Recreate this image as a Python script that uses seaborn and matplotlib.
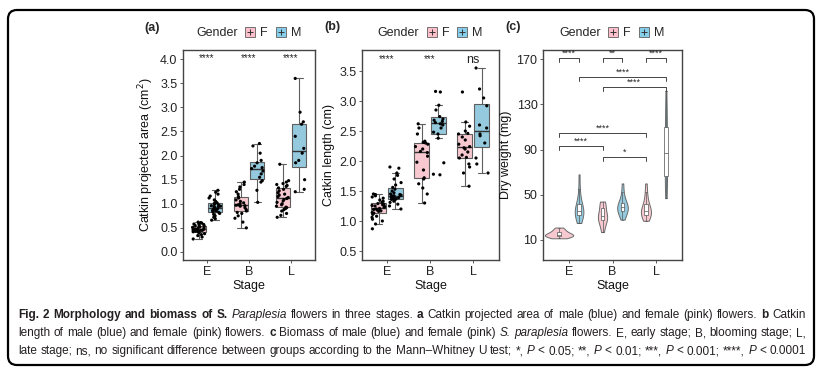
import numpy as np
import pandas as pd
import matplotlib
matplotlib.use("Agg")
import matplotlib.pyplot as plt
import seaborn as sns
from matplotlib.patches import FancyBboxPatch, Patch
from matplotlib.lines import Line2D

# ---- data ----
stages = ["E", "B", "L"]
genders = ["F", "M"]

# (a) catkin projected area (cm2)
area_E_F = [0.27, 0.31, 0.34, 0.36, 0.38, 0.40, 0.41, 0.42, 0.43, 0.44, 0.45, 0.45, 0.46, 0.46, 0.47,
            0.47, 0.48, 0.49, 0.50, 0.51, 0.52, 0.54, 0.55, 0.56, 0.57, 0.58, 0.59, 0.60, 0.61, 0.62]
area_E_M = [0.66, 0.69, 0.72, 0.75, 0.78, 0.80, 0.82, 0.83, 0.85, 0.86, 0.87, 0.88, 0.89, 0.90, 0.91,
            0.93, 0.94, 0.95, 0.96, 0.98, 0.99, 1.01, 1.02, 1.05, 1.08, 1.12, 1.16, 1.20, 1.24, 1.28]
area_B_F = [0.50, 0.62, 0.70, 0.75, 0.80, 0.82, 0.85, 0.88, 0.92, 0.95, 0.96, 0.97, 0.98, 1.00, 1.02,
            1.05, 1.08, 1.12, 1.15, 1.20, 1.25, 1.30, 1.35, 1.40, 1.45]
area_B_M = [1.03, 1.28, 1.45, 1.48, 1.55, 1.62, 1.68, 1.73, 1.75, 1.78, 1.85, 1.90, 2.05, 2.20, 2.25]
area_L_F = [0.72, 0.76, 0.80, 0.85, 0.88, 0.90, 0.92, 0.93, 0.95, 0.98, 1.00, 1.03, 1.06, 1.09, 1.11,
            1.13, 1.15, 1.18, 1.20, 1.23, 1.27, 1.30, 1.33, 1.36, 1.38, 1.40, 1.42, 1.45, 1.48, 1.82]
area_L_M = [1.25, 1.30, 1.50, 1.85, 1.90, 2.05, 2.15, 2.40, 2.65, 2.70, 2.90, 3.60]

# (b) catkin length (cm)
len_E_F = [0.87, 0.95, 1.00, 1.03, 1.06, 1.08, 1.11, 1.13, 1.14, 1.16, 1.17, 1.18, 1.19, 1.20, 1.21,
           1.23, 1.24, 1.25, 1.26, 1.27, 1.28, 1.29, 1.31, 1.33, 1.35, 1.38, 1.40, 1.42, 1.44, 1.45]
len_E_M = [1.20, 1.25, 1.28, 1.31, 1.33, 1.35, 1.36, 1.37, 1.37, 1.38, 1.39, 1.40, 1.41, 1.41, 1.42,
           1.42, 1.43, 1.44, 1.45, 1.47, 1.50, 1.53, 1.56, 1.60, 1.64, 1.70, 1.76, 1.80, 1.88, 1.90]
len_B_F = [1.30, 1.45, 1.55, 1.62, 1.70, 1.72, 1.85, 1.98, 2.08, 2.14, 2.16, 2.20, 2.24, 2.28, 2.30,
           2.31, 2.33, 2.45, 2.55, 2.62]
len_B_M = [1.77, 1.78, 1.97, 2.38, 2.45, 2.48, 2.55, 2.60, 2.62, 2.64, 2.66, 2.68, 2.70, 2.74, 2.85,
           2.93, 3.15, 3.16]
len_L_F = [1.58, 1.80, 1.90, 1.95, 2.05, 2.06, 2.10, 2.15, 2.20, 2.22, 2.24, 2.28, 2.35, 2.40, 2.45,
           2.46, 2.50, 2.58, 2.65, 3.15]
len_L_M = [1.80, 1.95, 2.05, 2.30, 2.42, 2.45, 2.55, 2.60, 2.92, 3.05, 3.20, 3.55]

# (c) dry weight (mg)
dw_E_F = [11.5, 12.2, 12.8, 13.3, 13.7, 14.0, 14.4, 14.8, 15.3, 15.9, 16.6, 17.5, 18.6, 19.8, 21.0]
dw_E_M = [25, 28, 30, 32, 33, 34, 35, 36, 37, 38, 40, 43, 47, 55, 68]
dw_B_F = [17, 21, 24, 27, 28, 29, 30, 31, 32, 34, 36, 40, 42, 43, 44]
dw_B_M = [28, 31, 33, 35, 36, 37, 38, 39, 40, 41, 42, 44, 47, 52, 60]
dw_L_F = [27, 29, 31, 32, 33, 34, 35, 36, 37, 38, 40, 43, 47, 52, 60]
dw_L_M = [47, 52, 58, 64, 70, 76, 82, 87, 92, 99, 106, 114, 122, 132, 142]

sig_a = ["****", "****", "****"]
sig_b = ["****", "***", "ns"]
# (group1, group2, bracket height, label)
brackets_c = [
    (("E", "F"), ("E", "M"), 171, "****"),
    (("B", "F"), ("B", "M"), 171, "**"),
    (("L", "F"), ("L", "M"), 171, "****"),
    (("E", "M"), ("L", "M"), 154, "****"),
    (("B", "F"), ("L", "M"), 145, "****"),
    (("E", "F"), ("L", "F"), 104.5, "****"),
    (("E", "F"), ("B", "F"), 93, "****"),
    (("B", "F"), ("L", "F"), 83, "*"),
]


def make_df(groups, name):
    rows = []
    for (st, g), vals in groups.items():
        for v in vals:
            rows.append({"Stage": st, "Gender": g, name: v})
    return pd.DataFrame(rows)


df_a = make_df({("E", "F"): area_E_F, ("E", "M"): area_E_M, ("B", "F"): area_B_F,
                ("B", "M"): area_B_M, ("L", "F"): area_L_F, ("L", "M"): area_L_M}, "area")
df_b = make_df({("E", "F"): len_E_F, ("E", "M"): len_E_M, ("B", "F"): len_B_F,
                ("B", "M"): len_B_M, ("L", "F"): len_L_F, ("L", "M"): len_L_M}, "length")
df_c = make_df({("E", "F"): dw_E_F, ("E", "M"): dw_E_M, ("B", "F"): dw_B_F,
                ("B", "M"): dw_B_M, ("L", "F"): dw_L_F, ("L", "M"): dw_L_M}, "weight")

# ---- style ----
sns.set_style("ticks")
plt.rcParams["font.family"] = ["Liberation Sans", "DejaVu Sans"]
palette = {"F": "#FFC0CB", "M": "#87CEEB"}
black = {"F": "black", "M": "black"}
white = {"F": "white", "M": "white"}
edge = "#5e5e5e"
np.random.seed(7)

W, H = 822, 370
fig = plt.figure(figsize=(W / 100, H / 100), dpi=100)


def px_axes(left, top, right, bottom):
    return fig.add_axes([left / W, 1 - bottom / H, (right - left) / W, (bottom - top) / H])


def finish(ax, xlim, ylim, yticks, ylabel):
    ax.set_xlim(*xlim)
    ax.set_ylim(*ylim)
    ax.set_yticks(yticks)
    ax.set_xlabel("Stage", fontsize=9, labelpad=2, color="#111")
    ax.set_ylabel(ylabel, fontsize=9, labelpad=3, color="#111")
    for s in ax.spines.values():
        s.set_visible(True)
        s.set_color("#444444")
        s.set_linewidth(1.0)
    ax.tick_params(length=2.5, width=0.6, colors="#444", labelsize=9, labelcolor="#222", pad=1.5)
    handles = [Line2D([], [], linestyle="none")]
    for g in genders:
        handles.append((Patch(facecolor=palette[g], edgecolor=edge, linewidth=0.6),
                        Line2D([], [], color="#333", marker="+", linestyle="none",
                               markersize=5, markeredgewidth=0.7)))
    ax.legend(handles, ["Gender"] + genders, ncol=3, loc="center", bbox_to_anchor=(0.44, 1.08),
              frameon=False, handlelength=0.8, handleheight=0.8, handletextpad=0.4,
              columnspacing=0.6, fontsize=9, borderaxespad=0, borderpad=0)


def box_panel(ax, df, col):
    sns.boxplot(data=df, x="Stage", y=col, hue="Gender", order=stages, hue_order=genders,
                palette=palette, width=0.78, gap=0.12, showfliers=False, linecolor=edge,
                linewidth=0.8, medianprops={"color": "#333", "linewidth": 1.0}, ax=ax)
    sns.stripplot(data=df, x="Stage", y=col, hue="Gender", order=stages, hue_order=genders,
                  palette=black, dodge=True, jitter=0.3, size=2.3, linewidth=0, legend=False, ax=ax)


# (a)
ax_a = px_axes(183, 50, 315, 260)
box_panel(ax_a, df_a, "area")
for i, s in enumerate(sig_a):
    ax_a.text(i, 4.02, s, ha="center", va="center", fontsize=7)
finish(ax_a, (-0.57, 2.57), (-0.166, 4.19), np.arange(0, 4.01, 0.5), "Catkin projected area (cm$^2$)")

# (b)
ax_b = px_axes(362, 50, 499, 260)
box_panel(ax_b, df_b, "length")
for i, s in enumerate(sig_b):
    if s == "ns":
        ax_b.text(i, 3.68, s, ha="center", va="center", fontsize=9)
    else:
        ax_b.text(i, 3.70, s, ha="center", va="center", fontsize=7)
finish(ax_b, (-0.58, 2.6), (0.35, 3.85), np.arange(0.5, 3.51, 0.5), "Catkin length (cm)")

# (c)
ax_c = px_axes(543, 50, 682, 260)
vw = 0.92
sns.violinplot(data=df_c, x="Stage", y="weight", hue="Gender", order=stages, hue_order=genders,
               palette=palette, width=vw, gap=-0.42, cut=0, inner=None, density_norm="area",
               common_norm=True, linecolor="#6a6a6a", linewidth=0.7, ax=ax_c)
sns.boxplot(data=df_c, x="Stage", y="weight", hue="Gender", order=stages, hue_order=genders,
            palette=white, width=vw, gap=0.82, showfliers=False, linecolor="#555",
            linewidth=0.5, legend=False, ax=ax_c)
off = vw / 4
xpos = {(s, g): i + (-off if g == "F" else off) for i, s in enumerate(stages) for g in genders}
for g1, g2, y, lab in brackets_c:
    x1, x2 = xpos[g1], xpos[g2]
    ax_c.plot([x1, x1, x2, x2], [y - 3.5, y, y, y - 3.5], color="#444", linewidth=0.7)
    ax_c.text((x1 + x2) / 2, y + 0.5, lab, ha="center", va="bottom", fontsize=6.5)
finish(ax_c, (-0.6, 2.6), (-7.7, 178), [10, 50, 90, 130, 170], "Dry weight (mg)")

# panel letters
for x, y, lab in [(152, 28, "(a)"), (332, 27, "(b)"), (513, 27, "(c)")]:
    fig.text(x / W, 1 - y / H, lab, fontsize=9, fontweight="bold", ha="center", va="center")

# outer rounded frame
frame = FancyBboxPatch((0.08, 0.05), 8.06, 3.55, boxstyle="round,pad=0,rounding_size=0.09",
                       transform=fig.dpi_scale_trans, facecolor="none", edgecolor="black",
                       linewidth=1.6)
fig.add_artist(frame)

# caption
caption_lines = [
    [("b", "Fig. 2 Morphology and biomass of S."), ("i", "Paraplesia"),
     ("n", "flowers in three stages."), ("b", "a"),
     ("n", "Catkin projected area of male (blue) and female (pink) flowers."), ("b", "b"), ("n", "Catkin")],
    [("n", "length of male (blue) and female (pink) flowers."), ("b", "c"),
     ("n", "Biomass of male (blue) and female (pink)"), ("i", "S. paraplesia"),
     ("n", "flowers. E, early stage; B, blooming stage; L,")],
    [("n", "late stage; ns, no significant difference between groups according to the Mann\u2013Whitney U test; *,"),
     ("i", "P"), ("n", "< 0.05; **,"), ("i", "P"), ("n", "< 0.01; ***,"), ("i", "P"),
     ("n", "< 0.001; ****,"), ("i", "P"), ("n", "< 0.0001")],
]
cap_family = ["Liberation Sans Narrow", "Liberation Sans"]
renderer = fig.canvas.get_renderer()
x0, x1 = 18, 806
baselines = [318, 336, 354]
size = 8.5
line_texts = []
for segs, yb in zip(caption_lines, baselines):
    texts = []
    for st, txt in segs:
        for w in txt.split(" "):
            t = fig.text(x0 / W, 1 - yb / H, w, fontsize=size, color="#231f20", family=cap_family,
                         fontweight="bold" if st == "b" else "normal",
                         fontstyle="italic" if st == "i" else "normal", va="baseline", ha="left")
            texts.append(t)
    line_texts.append(texts)

space = 0.27 * size * 100 / 72
naturals = [sum(t.get_window_extent(renderer).width for t in tl) + space * (len(tl) - 1)
            for tl in line_texts]
scale = min(1.0, (x1 - x0) / max(naturals))
for tl in line_texts:
    for t in tl:
        t.set_fontsize(size * scale)
for tl in line_texts:
    widths = [t.get_window_extent(renderer).width for t in tl]
    gap = (x1 - x0 - sum(widths)) / (len(tl) - 1)
    x = x0
    for t, w in zip(tl, widths):
        t.set_x(x / W)
        x += w + gap

fig.savefig("out.png", dpi=100)
